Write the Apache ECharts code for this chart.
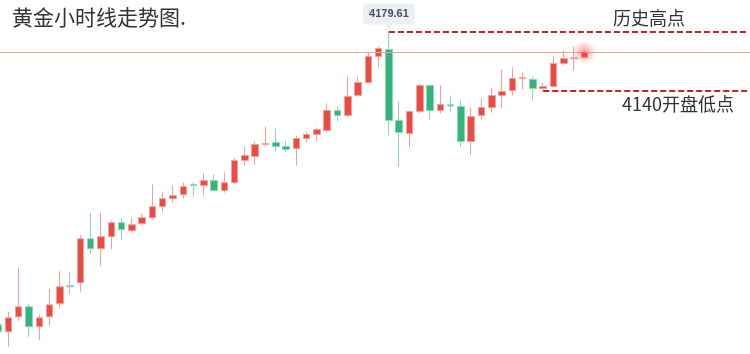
<!DOCTYPE html>
<html>
<head>
<meta charset="utf-8">
<script src="https://cdn.jsdelivr.net/npm/echarts@6/dist/echarts.min.js"></script>
<style>
  html, body { margin: 0; padding: 0; background: #fff; }
  #main { width: 750px; height: 354px; }
</style>
</head>
<body>
<div id="main"></div>
<script>
// 小时K线数据
const opens = [3982.9, 3978.2, 3988.3, 3995.0, 3981.6, 3988.3, 3997.0, 4009.1, 4011.1, 4040.6,
  4033.9, 4042.0, 4051.4, 4046.0, 4050.7, 4054.7, 4062.1, 4067.5, 4070.2, 4076.9,
  4076.2, 4079.6, 4072.9, 4078.2, 4093.0, 4095.7, 4103.8, 4105.1, 4102.4, 4101.1,
  4107.8, 4110.5, 4113.2, 4126.6, 4123.2, 4136.6, 4145.4, 4162.8, 4167.5, 4119.9,
  4111.1, 4125.9, 4143.4, 4126.6, 4130.4, 4129.3, 4105.8, 4123.2, 4128.6, 4136.6,
  4140.0, 4148.0, 4147.4, 4141.3, 4142.7, 4158.1, 4161.3, 4162.2];
const closes = [3978.2, 3987.6, 3995.0, 3981.6, 3987.6, 3996.3, 4008.4, 4008.4, 4040.6, 4033.9,
  4042.0, 4051.4, 4046.7, 4050.0, 4054.7, 4062.1, 4067.5, 4069.5, 4075.6, 4076.3,
  4079.6, 4072.9, 4078.2, 4093.0, 4096.4, 4103.8, 4104.4, 4102.4, 4100.4, 4107.8,
  4110.5, 4113.8, 4126.6, 4123.2, 4136.0, 4145.4, 4162.8, 4168.2, 4119.9, 4111.8,
  4125.9, 4143.4, 4126.6, 4130.6, 4129.6, 4105.8, 4122.5, 4128.6, 4136.6, 4139.3,
  4148.1, 4148.7, 4141.3, 4142.7, 4158.1, 4161.5, 4161.9, 4165.5];
const lows = [3976.2, 3968.1, 3985.6, 3974.9, 3972.8, 3982.2, 3994.3, 4003.7, 4005.1, 4030.6,
  4022.5, 4033.9, 4040.0, 4044.7, 4049.4, 4053.4, 4058.1, 4064.8, 4067.5, 4068.8,
  4069.5, 4072.2, 4071.5, 4076.9, 4089.7, 4090.3, 4102.4, 4099.1, 4098.4, 4089.7,
  4105.1, 4105.8, 4111.8, 4119.2, 4121.9, 4136.0, 4144.7, 4155.4, 4109.8, 4089.0,
  4101.7, 4124.6, 4120.5, 4124.6, 4125.2, 4102.4, 4097.0, 4120.5, 4125.2, 4127.9,
  4136.6, 4140.7, 4133.3, 4139.3, 4142.0, 4156.8, 4153.4, 4162.2];
const highs = [3984.9, 3991.6, 4021.2, 3997.0, 3989.6, 4007.1, 4019.2, 4018.5, 4043.3, 4058.1,
  4058.1, 4052.7, 4054.1, 4054.7, 4057.4, 4076.9, 4072.2, 4076.2, 4078.2, 4078.2,
  4084.3, 4083.6, 4085.0, 4095.0, 4102.4, 4105.8, 4115.8, 4114.5, 4106.4, 4109.8,
  4112.5, 4115.2, 4131.3, 4129.3, 4149.4, 4149.4, 4165.5, 4169.5, 4179.61, 4132.6,
  4126.6, 4144.7, 4143.6, 4143.4, 4136.6, 4133.3, 4128.6, 4134.6, 4142.0, 4154.1,
  4155.4, 4152.1, 4149.4, 4145.4, 4162.8, 4166.9, 4169.5, 4166.9];

const highPrice = 4179.61;   // 历史高点
const openLow = 4140;        // 开盘低点
const highIndex = 38;
const openLowIndex = 53;

// 时间轴：已走完的K线 + 右侧留白的未来时段
const slotCount = 74;
const hours = Array.from({ length: slotCount }, (_, i) => String(i % 24).padStart(2, '0') + ':00');

const chart = echarts.init(document.getElementById('main'));
const kData = opens.map((o, i) => [o, closes[i], lows[i], highs[i]]);
const lastIndex = closes.length - 1;
const lastClose = closes[lastIndex];
const axisEnd = slotCount - 1;

const dashed = { color: '#c92222', width: 2, type: [6, 3] };

const option = {
  animation: false,
  grid: { left: -7, right: -4, top: 1, bottom: -5, outerBoundsMode: 'none', containLabel: false },
  xAxis: { type: 'category', data: hours, show: false },
  yAxis: { type: 'value', min: 3960, max: 4200, show: false },
  graphic: [
    { type: 'text', left: 12, top: 7,
      style: { text: '黄金小时线走势图.', font: '21px "Noto Sans CJK SC"', fill: '#333' } },
    { type: 'text', left: 613, top: 9,
      style: { text: '历史高点', font: '18px "Noto Sans CJK SC"', fill: '#333' } },
    { type: 'text', left: 622, top: 95,
      style: { text: '4140开盘低点', font: '18px "Noto Sans CJK SC"', fill: '#333' } }
  ],
  series: [{
    type: 'candlestick',
    data: kData,
    barWidth: 7,
    itemStyle: {
      color: '#e94c45',
      color0: '#35b57e',
      borderColor: '#f3a09b',
      borderColor0: '#8ed6b5',
      borderWidth: 1
    },
    markLine: {
      silent: true,
      symbol: 'none',
      label: { show: false },
      data: [
        { yAxis: lastClose, lineStyle: { color: '#f2a19c', width: 1, type: 'solid' } },
        [{ coord: [highIndex, highPrice], lineStyle: dashed }, { coord: [axisEnd, highPrice] }],
        [{ coord: [openLowIndex, openLow], lineStyle: dashed }, { coord: [axisEnd, openLow] }]
      ]
    },
    markPoint: {
      silent: true,
      data: [
        {
          coord: [highIndex, highPrice],
          symbol: 'path://M3,0 H49 Q52,0 52,3 V18 Q52,21 49,21 H30 L26,26 L22,21 H3 Q0,21 0,18 V3 Q0,0 3,0 Z',
          symbolSize: [52, 26],
          symbolOffset: [0, -15],
          itemStyle: { color: '#eceff3' },
          label: {
            show: true,
            formatter: highPrice.toFixed(2),
            color: '#4b4f56',
            fontSize: 11,
            fontWeight: 'bold',
            offset: [0, -2.5]
          }
        },
        {
          coord: [lastIndex, lastClose],
          symbol: 'circle',
          symbolSize: 24,
          itemStyle: {
            color: {
              type: 'radial', x: 0.5, y: 0.5, r: 0.5,
              colorStops: [
                { offset: 0, color: 'rgba(240,60,60,0.5)' },
                { offset: 1, color: 'rgba(240,60,60,0)' }
              ]
            }
          },
          label: { show: false }
        }
      ]
    }
  }]
};

chart.setOption(option);
</script>
</body>
</html>
